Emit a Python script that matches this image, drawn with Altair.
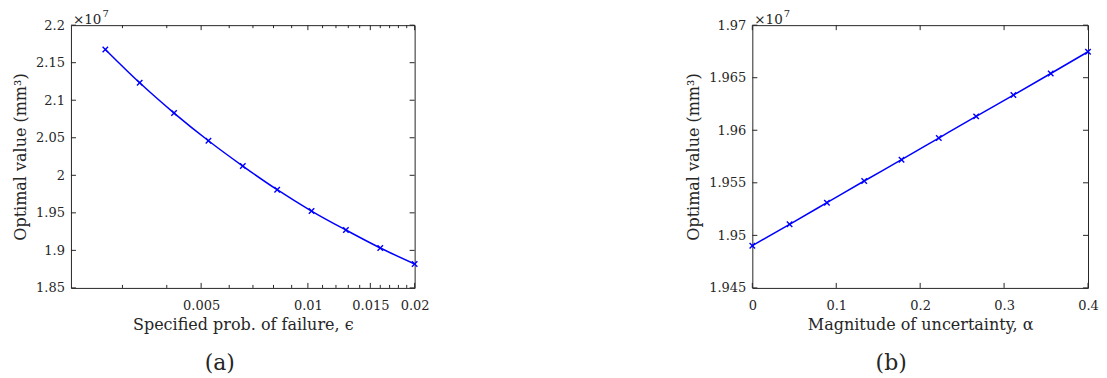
import altair as alt
import pandas as pd

# ---------------- data ----------------
# panel (a): optimal value (x1e7 mm^3) vs specified probability of failure
eps = [0.002684, 0.003355, 0.004194, 0.005243, 0.006554,
       0.008192, 0.01024, 0.0128, 0.016, 0.02]
vol_a = [2.1676, 2.1232, 2.0829, 2.0460, 2.0123,
         1.9808, 1.9524, 1.9271, 1.9032, 1.8819]

# panel (b): optimal value (x1e7 mm^3) vs magnitude of uncertainty
alpha = [0.0, 0.0444, 0.0889, 0.1333, 0.1778,
         0.2222, 0.2667, 0.3111, 0.3556, 0.4]
vol_b = [1.94902, 1.95105, 1.95311, 1.95517, 1.95720,
         1.95926, 1.96132, 1.96335, 1.96540, 1.96747]

# axis ticks / labels
xa_domain = [0.002147, 0.02]
xa_major = [0.005, 0.01, 0.015, 0.02]
xa_minor = [0.003, 0.004, 0.006, 0.007, 0.008, 0.009, 0.011, 0.012,
            0.013, 0.014, 0.016, 0.017, 0.018, 0.019]
ya_ticks = [1.85, 1.9, 1.95, 2.0, 2.05, 2.1, 2.15, 2.2]
xb_ticks = [0.0, 0.1, 0.2, 0.3, 0.4]
yb_ticks = [1.945, 1.95, 1.955, 1.96, 1.965, 1.97]

xa_title = "Specified prob. of failure, ϵ"
xb_title = "Magnitude of uncertainty, α"
y_title = "Optimal value (mm³)"
captions = ["(a)", "(b)"]
exp_base = "×10"
exp_power = "7"

# ---------------- styling ----------------
FONT = "DejaVu Serif"
INK = "#262626"
BLUE = "#0000FF"
H = 263
WA, WB = 344, 336
XMARK = "M-1,-1L1,1M-1,1L1,-1"
LFS = 13     # tick label font size
TFS = 16     # axis title font size


def panel(xs, ys, xscale, yscale, x_major, x_minor, y_ticks,
          xtitle, caption, W, cap_x):
    df = pd.DataFrame({"x": xs, "y": ys})
    common = dict(ticks=False, domain=False, grid=False, format="~g",
                  labelFont=FONT, labelFontSize=LFS, labelColor=INK,
                  titleFont=FONT, titleFontSize=TFS, titleColor=INK,
                  titleFontWeight="normal", labelFlush=False,
                  labelOverlap=False, tickCount=30)
    xaxis = alt.Axis(values=x_major, title=xtitle, labelPadding=11.5,
                     titlePadding=4, **common)
    yaxis = alt.Axis(values=y_ticks, title=y_title, labelPadding=6.5,
                     titlePadding=7, **common)
    base = alt.Chart(df)
    line = base.mark_line(color=BLUE, strokeWidth=1.5, interpolate="monotone").encode(
        x=alt.X("x:Q", scale=xscale, axis=xaxis),
        y=alt.Y("y:Q", scale=yscale, axis=yaxis),
    )
    pts = base.mark_point(shape=XMARK, size=30, filled=False, color=BLUE,
                          strokeWidth=1.4, opacity=1).encode(
        x=alt.X("x:Q", scale=xscale),
        y=alt.Y("y:Q", scale=yscale),
    )
    layers = [line, pts]

    def xticks(vals, length):
        d = alt.Chart(pd.DataFrame({"x": vals}))
        bot = d.mark_rule(color=INK, strokeWidth=1).encode(
            x=alt.X("x:Q", scale=xscale),
            y=alt.value(H), y2=alt.value(H - length))
        top = d.mark_rule(color=INK, strokeWidth=1).encode(
            x=alt.X("x:Q", scale=xscale),
            y=alt.value(0), y2=alt.value(length))
        return [bot, top]

    layers += xticks(x_major, 5)
    if x_minor:
        layers += xticks(x_minor, 3)
    d = alt.Chart(pd.DataFrame({"y": y_ticks}))
    layers.append(d.mark_rule(color=INK, strokeWidth=1).encode(
        y=alt.Y("y:Q", scale=yscale),
        x=alt.value(0), x2=alt.value(5)))
    layers.append(d.mark_rule(color=INK, strokeWidth=1).encode(
        y=alt.Y("y:Q", scale=yscale),
        x=alt.value(W - 5), x2=alt.value(W)))

    # x10^7 multiplier
    layers.append(alt.Chart(pd.DataFrame({"t": [exp_base]})).mark_text(
        font=FONT, fontSize=13.5, color=INK, align="left", baseline="alphabetic").encode(
        text="t:N", x=alt.value(2), y=alt.value(-1)))
    layers.append(alt.Chart(pd.DataFrame({"t": [exp_power]})).mark_text(
        font=FONT, fontSize=10, color=INK, align="left", baseline="alphabetic").encode(
        text="t:N", x=alt.value(31.5), y=alt.value(-8)))
    # caption
    layers.append(alt.Chart(pd.DataFrame({"t": [caption]})).mark_text(
        font=FONT, fontSize=22, color=INK, align="center", baseline="middle").encode(
        text="t:N", x=alt.value(cap_x), y=alt.value(338)))

    return alt.layer(*layers).properties(width=W, height=H)


pa = panel(eps, vol_a,
           alt.Scale(type="log", domain=xa_domain, nice=False),
           alt.Scale(domain=[1.85, 2.2], nice=False, zero=False),
           xa_major, xa_minor, ya_ticks, xa_title, captions[0], WA, 149)
pb = panel(alpha, vol_b,
           alt.Scale(domain=[0, 0.4], nice=False, zero=False),
           alt.Scale(domain=[1.945, 1.97], nice=False, zero=False),
           xb_ticks, [], yb_ticks, xb_title, captions[1], WB, 139)

chart = alt.hconcat(pa, pb, spacing=338, bounds="flush").properties(
    padding={"left": 4, "top": 0, "right": 0, "bottom": 0},
    background="white",
).configure_view(stroke=INK, strokeWidth=1)

chart.save("out.html", embed_options={"renderer": "svg", "actions": False})
